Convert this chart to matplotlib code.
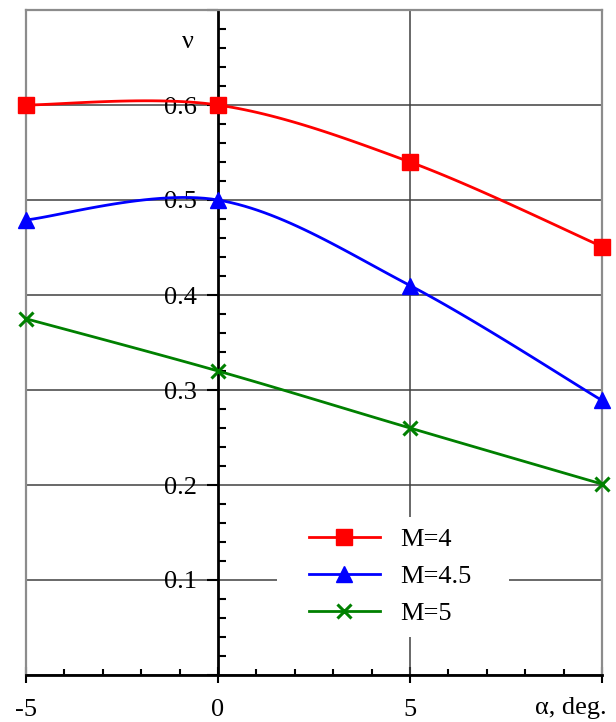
import numpy as np
import matplotlib
matplotlib.use("Agg")
import matplotlib.pyplot as plt
from matplotlib.lines import Line2D
from matplotlib.patches import Rectangle

# Datos
alpha = [-5, 0, 5, 10]
nu_m4 = [0.600, 0.600, 0.540, 0.451]
nu_m45 = [0.479, 0.500, 0.410, 0.289]
nu_m5 = [0.375, 0.320, 0.260, 0.201]
labels = ["M=4", "M=4.5", "M=5"]

x_ticks = [-5, 0, 5, 10]
x_ticklabels = ["-5", "0", "5", ""]
y_ticks = [0.0, 0.1, 0.2, 0.3, 0.4, 0.5, 0.6, 0.7]
y_ticklabels = ["", "0.1", "0.2", "0.3", "0.4", "0.5", "0.6", ""]

C_RED = "#FF0000"
C_BLUE = "#0000FF"
C_GREEN = "#008000"
C_FRAME = "#8c8c8c"
C_GRID = "#404040"

plt.rcParams.update({
    "font.family": ["Liberation Serif", "DejaVu Serif"],
    "font.size": 19,
})


def smooth(x, y, n=30):
    """Curva suavizada tipo Excel (Bezier por tramos)."""
    p = np.column_stack([x, y]).astype(float)
    p_ext = np.vstack([p[0], p, p[-1]])
    out = []
    t = np.linspace(0, 1, n)[:, None]
    for i in range(len(p) - 1):
        p0, p1, p2, p3 = p_ext[i], p_ext[i + 1], p_ext[i + 2], p_ext[i + 3]
        c1 = p1 + (p2 - p0) / 6
        c2 = p2 - (p3 - p1) / 6
        seg = ((1 - t) ** 3) * p1 + 3 * ((1 - t) ** 2) * t * c1 \
            + 3 * (1 - t) * t ** 2 * c2 + t ** 3 * p2
        out.append(seg if i == 0 else seg[1:])
    seg = np.vstack(out)
    return seg[:, 0], seg[:, 1]


fig = plt.figure(figsize=(6.16, 7.22), dpi=100)
ax = fig.add_axes([26 / 616, 47 / 722, 576 / 616, 665 / 722])

ax.set_xlim(-5, 10)
ax.set_ylim(0, 0.7)
ax.set_axisbelow(True)

# Rejilla y marco
ax.grid(axis="y", which="major", color=C_GRID, linewidth=1.1)
ax.axvline(5, color=C_GRID, linewidth=1.1, zorder=0.6)
ax.axvline(-5, color=C_FRAME, linewidth=1.6, zorder=0.7, clip_on=False)
ax.add_patch(Rectangle((0.436, 0.057), 0.403, 0.180, transform=ax.transAxes,
                       facecolor="white", edgecolor="none", zorder=1))

for side in ["top", "right"]:
    ax.spines[side].set_color(C_FRAME)
    ax.spines[side].set_linewidth(1.6)
ax.spines["left"].set_position(("data", 0))
ax.spines["left"].set_color("black")
ax.spines["left"].set_linewidth(2)
ax.spines["bottom"].set_color("black")
ax.spines["bottom"].set_linewidth(2)

ax.set_xticks(x_ticks)
ax.set_xticklabels(x_ticklabels)
ax.set_xticks(np.arange(-5, 11, 1), minor=True)
ax.set_yticks(y_ticks)
ax.set_yticklabels(y_ticklabels)
ax.set_yticks(np.arange(0, 0.701, 0.02), minor=True)

ax.tick_params(axis="y", which="major", direction="out", length=8, width=1.5, pad=7)
ax.tick_params(axis="y", which="minor", direction="in", length=6, width=1.5)
ax.tick_params(axis="x", which="major", direction="inout", length=12, width=1.5, pad=11)
ax.tick_params(axis="x", which="minor", direction="in", length=4.5, width=1.5)

# Series
series = [
    (nu_m4, C_RED, "s", 11, 1.0),
    (nu_m45, C_BLUE, "^", 12, 1.0),
    (nu_m5, C_GREEN, "x", 10, 2.2),
]
handles = []
for (vals, color, mk, ms, mew), lab in zip(series, labels):
    sx, sy = smooth(alpha, vals)
    ax.plot(sx, sy, color=color, linewidth=2, zorder=3, clip_on=False)
    ax.plot(alpha, vals, linestyle="none", marker=mk, markersize=ms,
            color=color, markeredgewidth=mew, zorder=4, clip_on=False)
    handles.append(Line2D([], [], color=color, linewidth=2, marker=mk,
                          markersize=ms, markeredgewidth=mew, label=lab))

ax.legend(handles=handles, loc="upper left", bbox_to_anchor=(0.491, 0.222),
          frameon=False, borderpad=0, borderaxespad=0, handlelength=2.7,
          handletextpad=0.75, labelspacing=0.52)

ax.text(-0.78, 0.666, "ν", ha="center", va="center")
fig.text(607 / 616, 14 / 722, "α, deg.", ha="right", va="center", fontsize=19)

fig.savefig("out.png", dpi=100)
